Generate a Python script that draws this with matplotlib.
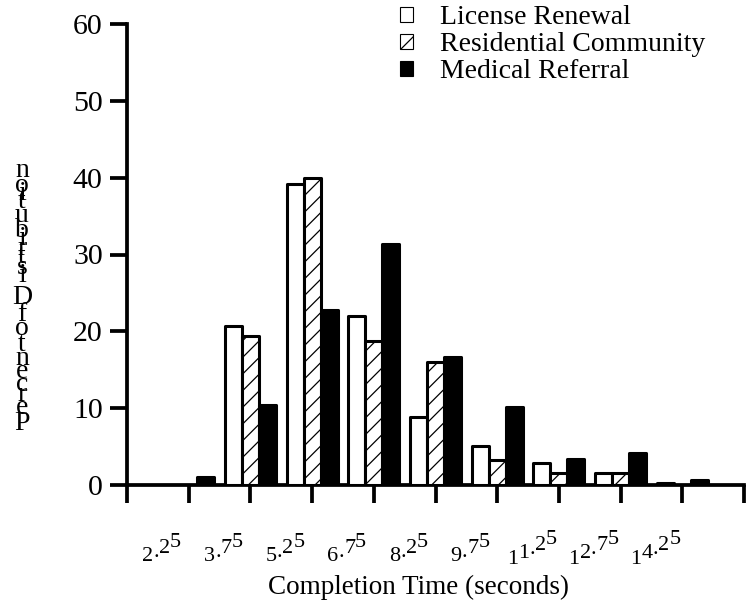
import matplotlib
matplotlib.use("Agg")
import matplotlib.pyplot as plt
import matplotlib.transforms as mtransforms
from matplotlib import font_manager
from matplotlib.ft2font import FT2Font
from matplotlib.patches import Patch
import numpy as np

# data (percent of distribution per bin)
bins = ["2.25", "3.75", "5.25", "6.75", "8.25", "9.75", "11.25", "12.75", "14.25"]
license_renewal = [0.0, 20.7, 39.2, 22.0, 8.8, 5.1, 2.8, 1.6, 0.2]
residential = [0.0, 19.4, 39.9, 18.7, 16.0, 3.2, 1.6, 1.6, 0.0]
medical_referral = [1.1, 10.4, 22.8, 31.4, 16.7, 10.1, 3.4, 4.1, 0.7]
series_names = ["License Renewal", "Residential Community", "Medical Referral"]

FAM = "Liberation Serif"
plt.rcParams["font.family"] = FAM
plt.rcParams["hatch.linewidth"] = 0.9

W, H = 746, 608
fig = plt.figure(figsize=(W / 100, H / 100), dpi=100)
ax = fig.add_axes([127 / W, 1 - 485 / H, 617 / W, 461 / H])


def char_advances(text, size_pt):
    # horizontal advance of each glyph in pixels (dpi 100)
    path = font_manager.findfont(font_manager.FontProperties(family=FAM))
    font = FT2Font(path)
    font.set_size(size_pt, 100)
    return [font.load_char(ord(c)).linearHoriAdvance / 65536 for c in text]


# bars
x = np.arange(1, len(bins) + 1)
bw = 0.275
lw = 2.2
ax.bar(x - bw, license_renewal, bw, facecolor="white", edgecolor="black",
       linewidth=lw, joinstyle="round", zorder=3)
ax.bar(x, residential, bw, facecolor="white", edgecolor="black", hatch="//",
       linewidth=lw, joinstyle="round", zorder=3)
ax.bar(x + bw, medical_referral, bw, facecolor="black", edgecolor="black",
       linewidth=lw, joinstyle="round", zorder=3)

ax.set_xlim(0, 10)
ax.set_ylim(0, 60)
for side in ["top", "right"]:
    ax.spines[side].set_visible(False)
for side in ["left", "bottom"]:
    ax.spines[side].set_linewidth(2.7)
ax.set_yticks(np.arange(0, 61, 10))
ax.set_xticks(np.arange(0, 11, 1))
ax.set_xticklabels([])
ax.tick_params(axis="y", direction="out", length=12, width=2.7, pad=5.5, labelsize=21.5)
ax.tick_params(axis="x", direction="out", length=13, width=2.7)

# tick labels: glyphs stepped upward along a slant, each glyph upright
px = 0.72  # pixels -> points at 100 dpi
tick_pt = 16
slope = 0.5
for xi, lab in zip(x, bins):
    adv = char_advances(lab, tick_pt)
    tot = sum(adv)
    cum = 0.0
    for ch, a in zip(lab, adv):
        c = cum + a / 2
        dx = -27 - tot / 2 + cum
        dy = -69 + (c - tot / 2) * slope
        tr = mtransforms.offset_copy(ax.get_xaxis_transform(), fig=fig,
                                     x=dx * px, y=dy * px, units="points")
        ax.text(xi, 0, ch, transform=tr, ha="left", va="baseline",
                fontsize=tick_pt, clip_on=False)
        cum += a

# y label: letters stacked bottom to top, upright
ylab = "Percent of Distribution"
ylab_pt = 20.0
adv = char_advances(ylab, ylab_pt)
step = 253 / sum(adv[:-1])
cum = 0.0
for ch, a in zip(ylab, adv):
    fig.text(22 / W, (H - 430 + cum * step) / H, ch, ha="center", va="baseline",
             fontsize=ylab_pt)
    cum += a

ax.set_xlabel("Completion Time (seconds)", fontsize=19.5, va="center")
ax.xaxis.set_label_coords((418 - 127) / 617, -(587 - 485) / 461)

handles = [
    Patch(facecolor="white", edgecolor="black", linewidth=0.8),
    Patch(facecolor="white", edgecolor="black", hatch="//", linewidth=0.8),
    Patch(facecolor="black", edgecolor="black", linewidth=0.8),
]
ax.legend(handles, series_names, loc="upper left", bbox_to_anchor=(400 / W, 1 - 5 / H),
          bbox_transform=fig.transFigure, frameon=False, fontsize=20,
          borderpad=0, borderaxespad=0, handlelength=0.45, handleheight=0.45,
          handletextpad=1.0, labelspacing=0.08)

fig.savefig("out.png", dpi=100)
